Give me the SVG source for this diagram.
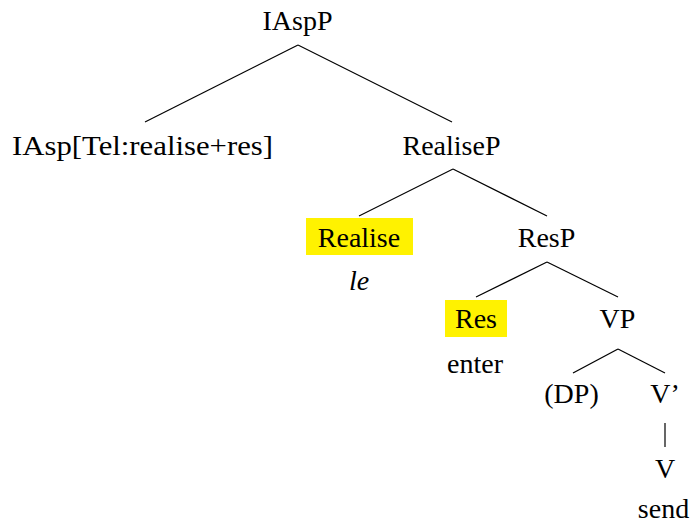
<svg xmlns="http://www.w3.org/2000/svg" width="694" height="526" viewBox="0 0 694 526">
<rect width="694" height="526" fill="#fff"/>
<g id="IAspP"><text x="297.5" y="30" font-family="Liberation Serif" font-size="28" text-anchor="middle">IAspP</text></g>
<g id="IAsp"><text x="142.5" y="155" font-family="Liberation Serif" font-size="28" text-anchor="middle" textLength="261" lengthAdjust="spacingAndGlyphs">IAsp[Tel:realise+res]</text></g>
<g id="RealiseP"><text x="451.5" y="155" font-family="Liberation Serif" font-size="28" text-anchor="middle">RealiseP</text></g>
<g id="Realise"><rect fill="#fff200" x="306" y="218" width="107" height="37"/><text x="359" y="247" font-family="Liberation Serif" font-size="28" text-anchor="middle">Realise</text></g>
<g id="le"><text x="359" y="290" font-family="Liberation Serif" font-size="28" text-anchor="middle" font-style="italic">le</text></g>
<g id="ResP"><text x="546.5" y="247" font-family="Liberation Serif" font-size="28" text-anchor="middle">ResP</text></g>
<g id="Res"><rect fill="#fff200" x="445" y="300" width="62" height="37"/><text x="476" y="328" font-family="Liberation Serif" font-size="28" text-anchor="middle">Res</text></g>
<g id="enter"><text x="475" y="373" font-family="Liberation Serif" font-size="28" text-anchor="middle">enter</text></g>
<g id="VP"><text x="617.5" y="328" font-family="Liberation Serif" font-size="28" text-anchor="middle">VP</text></g>
<g id="DP"><text x="571.5" y="403" font-family="Liberation Serif" font-size="28" text-anchor="middle">(DP)</text></g>
<g id="Vbar"><text x="665" y="403" font-family="Liberation Serif" font-size="28" text-anchor="middle">V’</text></g>
<g id="V"><text x="665" y="478" font-family="Liberation Serif" font-size="28" text-anchor="middle">V</text></g>
<g id="send"><text x="663.5" y="518" font-family="Liberation Serif" font-size="28" text-anchor="middle">send</text></g>
<g id="connectors" stroke="#000" stroke-width="1.2">
<line x1="298" y1="45" x2="145" y2="122"/>
<line x1="298" y1="45" x2="452" y2="122"/>
<line x1="453" y1="169" x2="359" y2="216"/>
<line x1="453" y1="169" x2="547" y2="216"/>
<line x1="547" y1="262" x2="476" y2="297"/>
<line x1="547" y1="262" x2="618" y2="297"/>
<line x1="618" y1="349" x2="573" y2="373"/>
<line x1="618" y1="349" x2="665" y2="373"/>
<line x1="665" y1="423" x2="665" y2="447"/>
</g>
</svg>
